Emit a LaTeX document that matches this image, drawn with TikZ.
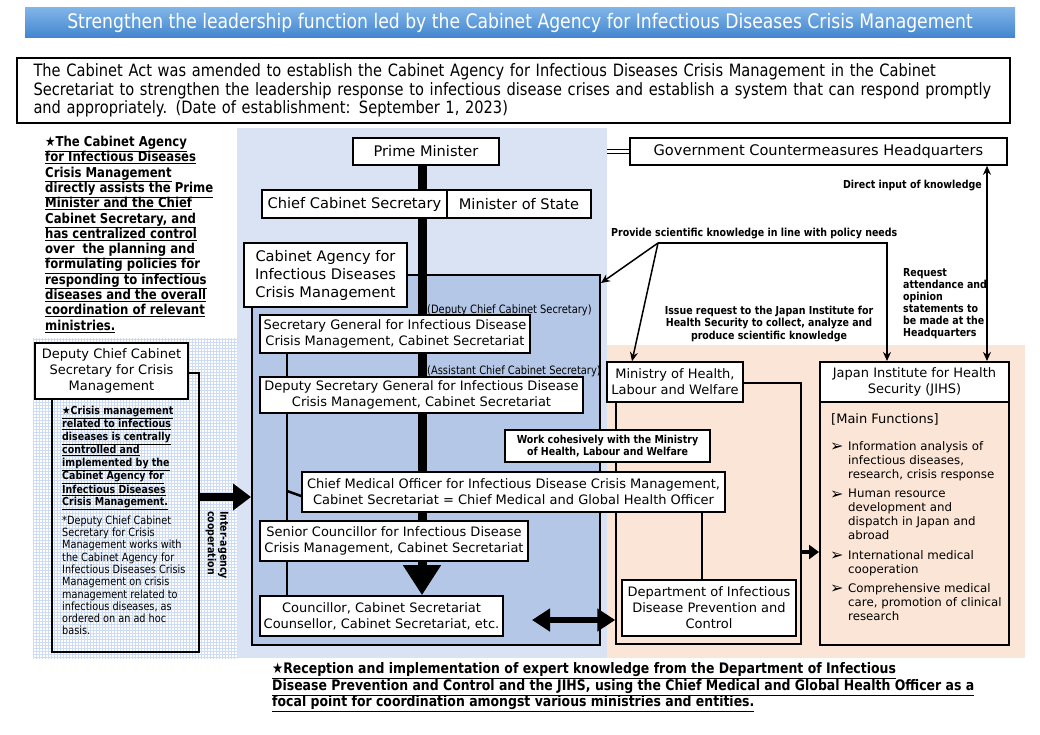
\documentclass[tikz,border=0pt]{standalone}
\usepackage{fontspec}
\setmainfont{DejaVu Sans}
\newfontfamily\narrowfont[FakeStretch=0.86]{DejaVu Sans}
\usetikzlibrary{arrows.meta,positioning,patterns,calc}

\definecolor{titletop}{RGB}{128,180,232}
\definecolor{titlebottom}{RGB}{66,133,206}
\definecolor{officebg}{RGB}{218,227,243}
\definecolor{agencybg}{RGB}{180,199,231}
\definecolor{healthbg}{RGB}{251,229,214}
\definecolor{gridblue}{RGB}{205,219,243}

\pgfdeclarelayer{bg}
\pgfdeclarelayer{wires}
\pgfsetlayers{bg,wires,main}

\tikzset{
  office/.style={draw, fill=white, line width=1.6pt, align=center, inner sep=0pt,
    font=\fontsize{14.6}{18}\selectfont},
  post/.style={office, font=\fontsize{13}{16}\selectfont},
  remark/.style={inner sep=0pt, align=left, font=\narrowfont\bfseries\fontsize{11}{12.3}\selectfont},
  remark box/.style={remark, draw, fill=white, line width=1.6pt, align=center},
  aside/.style={inner sep=0pt, font=\narrowfont\fontsize{11.5}{12}\selectfont},
  fnitem/.style={inner sep=0pt, align=left, font=\fontsize{11.8}{14}\selectfont},
  wire/.style={line width=2.5pt},
  link/.style={line width=1.5pt, -{Stealth[length=9pt,width=8pt]}},
}

\begin{document}
\begin{tikzpicture}[x=1pt, y=-1pt]
	
	\useasboundingbox (0,0) rectangle (1040,735);
	
	% heading and summary
	\shade [top color=titletop, bottom color=titlebottom] (25,8) rectangle (1015,38);
	\node [text=white, font=\narrowfont\fontsize{20}{22}\selectfont] (title) at (520,23)
	{Strengthen the leadership function led by the Cabinet Agency for Infectious Diseases Crisis Management};
	
	\node [draw, line width=2.4pt, minimum width=993, minimum height=65, text width=960,
	inner xsep=16.5, align=left, font=\narrowfont\fontsize{17}{18.5}\selectfont] (act) at (513.5,90.5)
	{The Cabinet Act was amended to establish the Cabinet Agency for Infectious Diseases Crisis Management in the Cabinet\\
		Secretariat to strengthen the leadership response to infectious disease crises and establish a system that can respond promptly\\
		and appropriately. (Date of establishment: September 1, 2023)};
	
	% backgrounds
	\begin{pgfonlayer}{bg}
		\fill [officebg] (237,128) rectangle (607,658);
		\fill [healthbg] (607,345) rectangle (1025,658);
		\fill [pattern=grid, pattern color=gridblue] (33,338) rectangle (237,658);
		\node [draw, fill=agencybg, line width=2pt, minimum width=348, minimum height=370] (agency) at (426,460) {};
	\end{pgfonlayer}
	
	% frames
	\node [draw, line width=1.5pt, minimum width=185, minimum height=261] (hframe) at (708.5,513.5) {};
	\node [draw, line width=1.5pt, minimum width=147, minimum height=279] (dframe) at (125.5,512.5) {};
	
	% cabinet side
	\node [office, minimum width=146, minimum height=27] (pm) at (426,151.5) {Prime Minister};
	\node [office, minimum width=185, minimum height=28] (ccs) at (354.5,204) {Chief Cabinet Secretary};
	\node [office, minimum width=144, minimum height=28] (mos) at (519,204) {Minister of State};
	\node [office, minimum width=163, minimum height=64] (agencylabel) at (325.5,275)
	{Cabinet Agency for\\Infectious Diseases\\Crisis Management};
	
	\node [post, minimum width=270, minimum height=38] (secgen) at (395,334)
	{Secretary General for Infectious Disease\\Crisis Management, Cabinet Secretariat};
	\node [post, minimum width=323, minimum height=36] (depsec) at (421.5,395)
	{Deputy Secretary General for Infectious Disease\\Crisis Management, Cabinet Secretariat};
	\node [remark box, minimum width=205, minimum height=32] (cohesive) at (607.5,446)
	{Work cohesively with the Ministry\\of Health, Labour and Welfare};
	\node [post, minimum width=423, minimum height=40] (cmo) at (513.5,492)
	{Chief Medical Officer for Infectious Disease Crisis Management,\\Cabinet Secretariat = Chief Medical and Global Health Officer};
	\node [post, minimum width=268, minimum height=40] (senior) at (394,541)
	{Senior Councillor for Infectious Disease\\Crisis Management, Cabinet Secretariat};
	\node [post, minimum width=243, minimum height=40] (councillor) at (381.5,616)
	{Councillor, Cabinet Secretariat\\Counsellor, Cabinet Secretariat, etc.};
	
	\node [post, minimum width=153, minimum height=56] (dccs) at (111.5,371)
	{Deputy Chief Cabinet\\Secretary for Crisis\\Management};
	
	% health side
	\node [office, minimum width=377, minimum height=27] (hq) at (818.5,151.5) {Government Countermeasures Headquarters};
	\node [post, minimum width=136, minimum height=40] (mhlw) at (675,382) {Ministry of Health,\\Labour and Welfare};
	\node [post, minimum width=174, minimum height=56] (dept) at (709,608)
	{Department of Infectious\\Disease Prevention and\\Control};
	\node [post, line width=2pt, minimum width=189, minimum height=40] (jihs) at (914.5,382)
	{Japan Institute for Health\\Security (JIHS)};
	\node [draw, line width=2pt, minimum width=189, minimum height=243] (jbody) at (914.5,523.5) {};
	
	\node [fnitem, anchor=north west, font=\fontsize{13}{15}\selectfont] (fnhead) at (831,413.5) {[Main Functions]};
	\foreach \y/\txt [count=\i] in {447/{Information analysis of\\infectious diseases,\\research, crisis response},
		495/{Human resource\\development and\\dispatch in Japan and\\abroad},
		556/{International medical\\cooperation},
		589/{Comprehensive medical\\care, promotion of clinical\\research}}
	{
		\node [fnitem, anchor=west, font=\bfseries\fontsize{16}{16}\selectfont] (fnmark-\i) at (830,\y) {➢};
		\node [fnitem, anchor=north west] (fn-\i) at (848,\y-6) {\txt};
	}
	
	% connectors
	\begin{pgfonlayer}{wires}
		\coordinate (spine) at (422,0);
		\draw [line width=9pt, -{Triangle[width=36pt,length=30pt]}] (pm.south -| spine) -- (councillor.north -| spine);
		\draw [wire] (secgen.south -| 287,0) -- (councillor.north -| 287,0);
		\draw [wire] (287,491) -- (cmo.west |- 0,496);
		\draw [wire] (cmo.south -| 702,0) -- (dept.north -| 702,0);
		\draw [line width=8pt, -{Triangle[width=26pt,length=18pt]}] (dframe.east |- 0,497) -- (agency.west |- 0,497);
		\coordinate (swap) at (532,620);
		\draw [line width=6pt, {Triangle[width=22pt,length=18pt]}-{Triangle[width=22pt,length=18pt]}] (swap) -- (hframe.west |- swap);
		\draw [line width=4pt, -{Triangle[width=14pt,length=10pt]}] (hframe.east |- 0,552) -- (jbody.west |- 0,552);
		\coordinate (hqend) at (607,151.5);
		\draw [double, double distance=2.5pt, line width=1pt] (hqend) -- (hq.west);
		\coordinate (hub) at (658,243);
		\draw [link] (hub) -- (agency.east |- 0,283);
		\draw [link] (hub) -- (mhlw.north -| 632,0);
		\draw [link] (hub) -- (887,243) -- (jihs.north -| 887,0);
		\draw [line width=1.5pt, {Stealth[length=9pt,width=8pt]}-{Stealth[length=9pt,width=8pt]}] (hq.south -| 987,0) -- (jihs.north -| 987,0);
	\end{pgfonlayer}
	
	% remarks
	\node [remark, anchor=north west, font=\narrowfont\bfseries\fontsize{13.6}{15.3}\selectfont] (aim) at (45,136)
	{\underline{★The Cabinet Agency}\\\underline{for Infectious Diseases}\\\underline{Crisis Management}\\
		\underline{directly assists the Prime}\\\underline{Minister and the Chief}\\\underline{Cabinet Secretary, and}\\
		\underline{has centralized control}\\\underline{over\ \ the planning and}\\\underline{formulating policies for}\\
		\underline{responding to infectious}\\\underline{diseases and the overall}\\\underline{coordination of relevant}\\
		\underline{ministries.}};
	
	\node [remark, anchor=north west] (crisis) at (62,405.5)
	{\underline{★Crisis management}\\\underline{related to infectious}\\\underline{diseases is centrally}\\
		\underline{controlled and}\\\underline{implemented by the}\\\underline{Cabinet Agency for}\\
		\underline{Infectious Diseases}\\\underline{Crisis Management.}};
	\node [aside, anchor=north west, align=left, font=\narrowfont\fontsize{11.3}{12.3}\selectfont] (adhoc) at (62,515.5)
	{*Deputy Chief Cabinet\\Secretary for Crisis\\Management works with\\the Cabinet Agency for\\
		Infectious Diseases Crisis\\Management on crisis\\management related to\\infectious diseases, as\\
		ordered on an ad hoc\\basis.};
	\node [remark, rotate=-90] (inter) at (217,545) {Inter-agency\\cooperation};
	
	\node [aside, anchor=west] (dcsnote) at (427,310) {(Deputy Chief Cabinet Secretary)};
	\node [aside, anchor=west] (acsnote) at (427,371) {(Assistant Chief Cabinet Secretary)};
	
	\node [remark, anchor=west] (provide) at (611,234) {Provide scientific knowledge in line with policy needs};
	\node [remark, anchor=east] (direct) at (982,186) {Direct input of knowledge};
	\node [remark, align=center] (issue) at (769,324)
	{Issue request to the Japan Institute for\\Health Security to collect, analyze and\\produce scientific knowledge};
	\node [remark, anchor=north west, font=\narrowfont\bfseries\fontsize{11}{12}\selectfont] (attend) at (903,268.5)
	{Request\\attendance and\\opinion\\statements to\\be made at the\\Headquarters};
	
	\node [remark, anchor=north west, font=\narrowfont\bfseries\fontsize{14.5}{16.5}\selectfont] (focal) at (272,662.5)
	{\underline{★Reception and implementation of expert knowledge from the Department of Infectious}\\
		\underline{Disease Prevention and Control and the JIHS, using the Chief Medical and Global Health Officer as a}\\
		\underline{focal point for coordination amongst various ministries and entities.}};
	
\end{tikzpicture}
\end{document}
